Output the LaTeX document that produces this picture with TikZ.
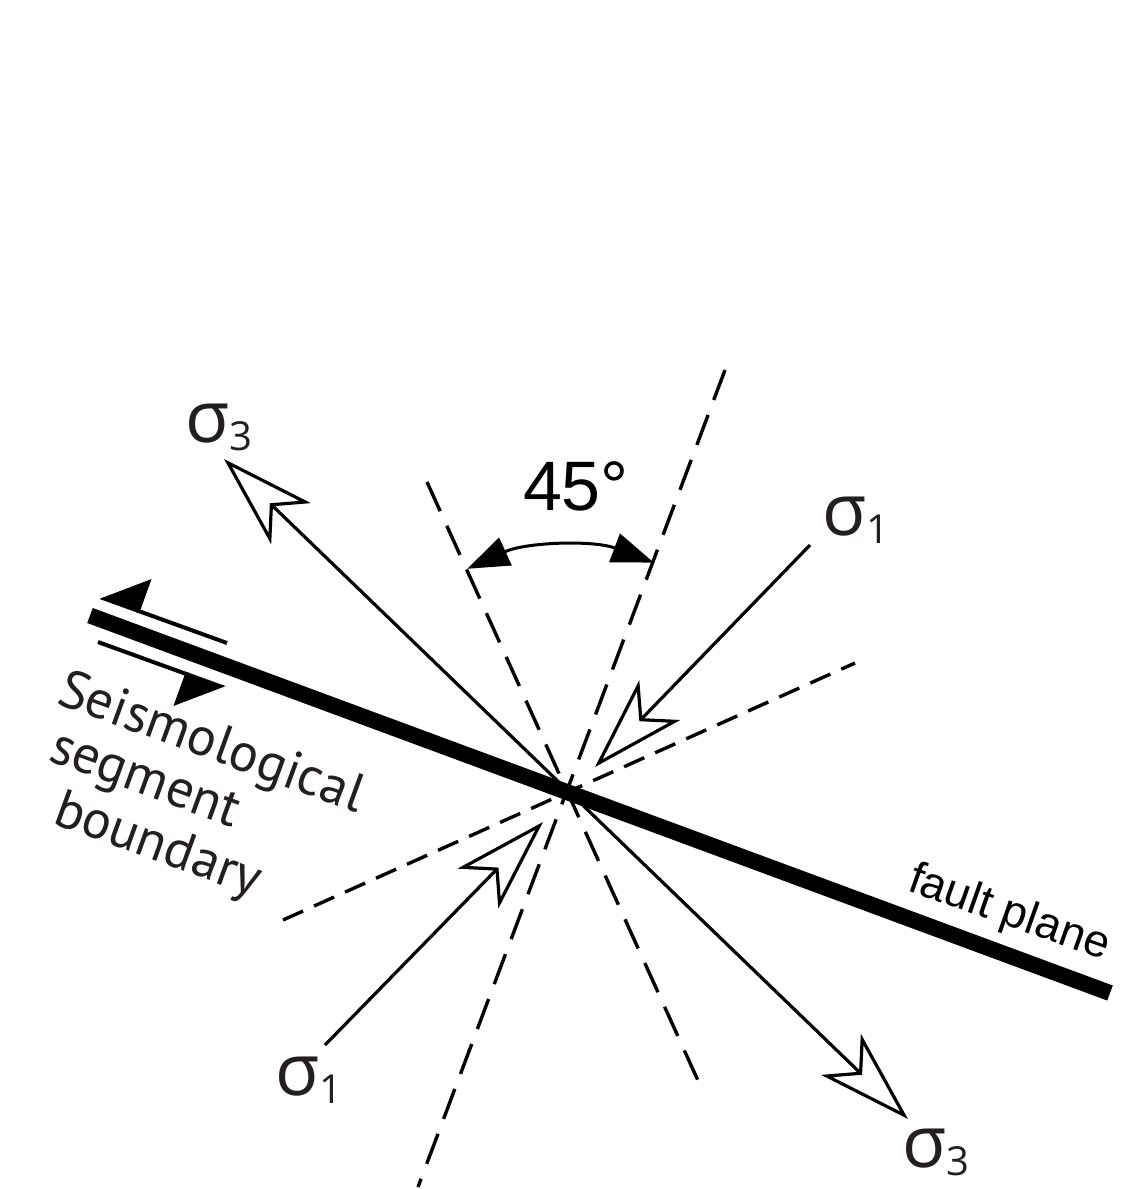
\documentclass[tikz,border=0pt]{standalone}
\usepackage{fontspec}
\setmainfont{Liberation Sans}
\newfontfamily\labelfont{PT Sans}
\newfontfamily\greekfont{Open Sans}
\usetikzlibrary{arrows.meta}

\definecolor{inkblack}{RGB}{35,31,32}
\newcommand{\stresslabel}[1]{{\greekfont\fontsize{72}{72}\selectfont σ}\raisebox{-8pt}{\greekfont\fontsize{40}{40}\selectfont #1}}

\begin{document}
\begin{tikzpicture}[x=1pt,y=-1pt,
  every node/.style={inner sep=0pt, outer sep=0pt},
  longdash/.style={line width=3.4pt, dash pattern=on 32pt off 16pt},
  shortdash/.style={line width=3.4pt, dash pattern=on 22pt off 12pt},
  stressline/.style={line width=3.2pt},
  opentip/.tip={Stealth[length=93pt,width=57pt,inset=25pt,fill=white]},
  halftip/.tip={Triangle[harpoon,swap,length=40pt,width=68pt]},
  angletip/.tip={Triangle[length=42pt,width=30pt]},
  seismo/.style={font=\labelfont\fontsize{54}{54}\selectfont, text=inkblack, anchor=base west, rotate=-20},
  sigma/.style={text=inkblack, anchor=base west}]
\fill[white] (0,0) rectangle (1120,1189);
\useasboundingbox (0,0) rectangle (1120,1189);

\coordinate (O) at (568,791);

% dashed planes
\coordinate (a1) at (725,370);
\coordinate (a2) at (418,1187);
\coordinate (b1) at (427,482);
\coordinate (b2) at (700,1085);
\coordinate (c1) at (283,920);
\coordinate (c2) at (855,663);
\draw[longdash] (a1) -- (a2);
\draw[longdash] (b1) -- (b2);
\draw[shortdash] (c1) -- (c2);

% principal stresses
\coordinate (s3a) at (224,459);
\coordinate (s3b) at (908,1119);
\coordinate (s1a) at (810,545);
\coordinate (s1ah) at (595,767);
\coordinate (s1b) at (325,1045);
\coordinate (s1bh) at (543,822);
\draw[stressline, {opentip}-{opentip}] (s3a) -- (s3b);
\draw[stressline, -{opentip}] (s1a) -- (s1ah);
\draw[stressline, -{opentip}] (s1b) -- (s1bh);

% fault plane and sense of slip
\coordinate (f1) at (90,615.5);
\coordinate (f2) at (1110,993);
\draw[line width=16pt] (f1) -- (f2);
\coordinate (u1) at (227,643);
\coordinate (u2) at (100,597);
\coordinate (l1) at (98,642);
\coordinate (l2) at (225,688);
\draw[line width=4pt, -{halftip}] (u1) -- (u2);
\draw[line width=4pt, -{halftip}] (l1) -- (l2);

% 45 degree angle
\draw[line width=3pt, {angletip}-{angletip}] (O) ++(-114.4:244) arc[start angle=-114.4, end angle=-69.4, radius=244];
\node[font=\fontsize{70}{70}\selectfont, anchor=base] (ang) at (576,510) {45°};

% labels
\node[sigma] (sig3a) at (185,442) {\stresslabel{3}};
\node[sigma] (sig1a) at (822,535) {\stresslabel{1}};
\node[sigma] (sig1b) at (275,1095) {\stresslabel{1}};
\node[sigma] (sig3b) at (902,1167) {\stresslabel{3}};
\node[seismo] (seis) at (55,703) {Seismological};
\node[seismo] (segm) at (47,760) {segment};
\node[seismo] (bnd) at (51,823) {boundary};
\node[font=\fontsize{45.5}{45.5}\selectfont, anchor=base west, rotate=-19.5] (fp) at (906,890) {fault plane};
\end{tikzpicture}
\end{document}
